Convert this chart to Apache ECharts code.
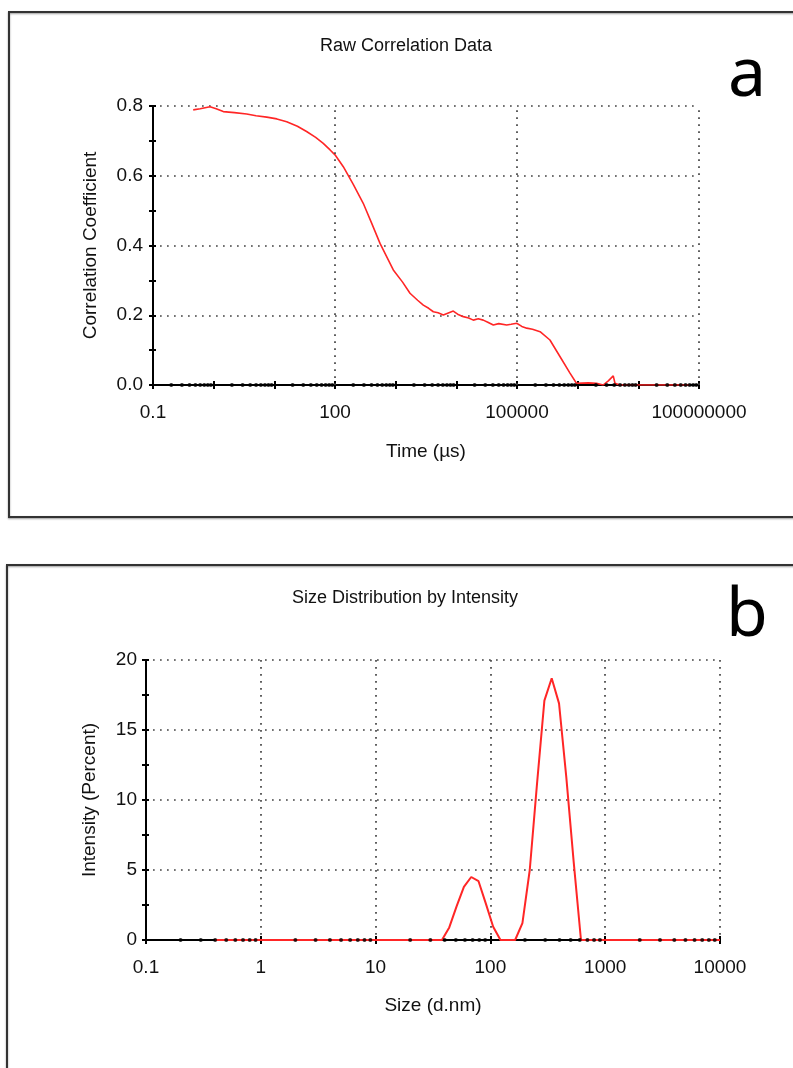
<!DOCTYPE html>
<html>
<head>
<meta charset="utf-8">
<style>
  html, body { margin: 0; padding: 0; background: #fff; }
  #chart { width: 793px; height: 1068px; }
</style>
<script src="https://cdn.jsdelivr.net/npm/echarts@6/dist/echarts.min.js"></script>
</head>
<body>
<div id="chart"></div>
<script>
// --- panel a: raw correlation data (time in µs, correlation coefficient)
var timeUs = [0.46, 0.6, 0.87, 1.1, 1.44, 2.2, 3.5, 5, 7.5, 11, 16, 24, 34, 48, 64, 83, 100, 137, 200, 292,
  400, 552, 914, 1300, 1722, 2300, 2856, 3500, 4178, 5000, 6100, 7200, 8910, 10500, 13030, 16000, 19050,
  23000, 27800, 33000, 40700, 50000, 67600, 80000, 98800, 120000, 144500, 180000, 240000, 349000, 513000,
  747000, 955000, 1500000, 2040000, 2630000, 3200000, 3860000, 4120000, 4980000, 10000000, 70000000];
var corrCoef = [0.789, 0.792, 0.798, 0.792, 0.784, 0.781, 0.777, 0.772, 0.768, 0.763, 0.755, 0.742, 0.727,
  0.71, 0.693, 0.674, 0.66, 0.626, 0.575, 0.521, 0.465, 0.406, 0.33, 0.295, 0.263, 0.243, 0.229, 0.22, 0.21,
  0.207, 0.201, 0.206, 0.212, 0.203, 0.196, 0.192, 0.186, 0.19, 0.186, 0.18, 0.172, 0.176, 0.172, 0.174,
  0.177, 0.168, 0.163, 0.16, 0.153, 0.129, 0.081, 0.034, 0.005, 0.006, 0.005, 0.0, 0.012, 0.026, 0.005, 0, 0, 0];
var timeLabelTicks = [0.1, 100, 100000, 100000000];
var timeGridLines = [100, 100000, 100000000];
var timeDecades = [0.1, 1, 10, 100, 1000, 10000, 100000, 1000000, 10000000];

// --- panel b: size distribution by intensity
var sizeNm = [0.4, 37.84, 43.82, 50.75, 58.77, 68.06, 78.82, 91.28, 105.7, 122.4, 164.2, 190.1, 220.2,
  255.0, 295.3, 342.0, 396.1, 458.7, 531.2, 615.1, 10000];
var intensityPct = [0, 0, 0.9, 2.4, 3.8, 4.5, 4.2, 2.6, 0.95, 0, 0, 1.2, 5.0, 11.2, 17.1, 18.7, 16.9, 11.6, 5.6, 0, 0];
var sizeDecades = [0.1, 1, 10, 100, 1000];

var minorSteps = [2, 3, 4, 5, 6, 7, 8, 9];

function minorDots(decades) {
  var pts = [];
  decades.forEach(function (d) {
    minorSteps.forEach(function (k) { pts.push([d * k, 0]); });
  });
  return pts;
}

function zip(xs, ys) {
  return xs.map(function (x, i) { return [x, ys[i]]; });
}

function expOf(v) { return Math.round(Math.log(v) / Math.LN10); }
function fmtPow(v) {
  var e = expOf(v);
  return e < 0 ? '0.1' : String(Math.pow(10, e));
}

var FONT = 'Liberation Sans';
var TXT = '#111';
var dotted = { color: '#444', width: 1.7, type: [1.7, 5.3] };
var tickStyle = { color: '#000', width: 2 };

// axes that only add the inner half of the tick marks (ticks cross the axis line)
function innerX(grid, max) {
  return {
    gridIndex: grid, position: 'bottom', type: 'log', logBase: 10, min: 0.1, max: max,
    axisLine: { show: false }, axisLabel: { show: false }, splitLine: { show: false },
    axisTick: { show: true, inside: true, length: 4, lineStyle: tickStyle }
  };
}
function innerY(grid, max, step) {
  return {
    gridIndex: grid, position: 'left', type: 'value', min: 0, max: max, interval: step,
    axisLine: { show: false }, axisLabel: { show: false }, splitLine: { show: false },
    axisTick: { show: true, inside: true, length: 3, lineStyle: tickStyle },
    minorTick: { show: true, splitNumber: 2, length: 3, lineStyle: tickStyle }
  };
}

var myChart = echarts.init(document.getElementById('chart'));

var option = {
  animation: false,
  backgroundColor: '#fff',
  textStyle: { fontFamily: FONT },
  graphic: [
    { type: 'rect', shape: { x: 9, y: 12, width: 820, height: 505 },
      style: { fill: 'none', stroke: '#333', lineWidth: 2, shadowBlur: 2, shadowColor: '#999', shadowOffsetY: 1 } },
    { type: 'rect', shape: { x: 7, y: 565, width: 820, height: 530 },
      style: { fill: 'none', stroke: '#333', lineWidth: 2, shadowBlur: 2, shadowColor: '#999', shadowOffsetY: 1 } },
    { type: 'text', x: 406, y: 46,
      style: { text: 'Raw Correlation Data', font: '18px ' + FONT, fill: TXT, textAlign: 'center', textVerticalAlign: 'middle' } },
    { type: 'text', x: 405, y: 598,
      style: { text: 'Size Distribution by Intensity', font: '18px ' + FONT, fill: TXT, textAlign: 'center', textVerticalAlign: 'middle' } },
    { type: 'text', x: 747, y: 77,
      style: { text: 'a', font: '68px "Noto Sans"', fill: '#000', textAlign: 'center', textVerticalAlign: 'middle' } },
    { type: 'text', x: 747, y: 617,
      style: { text: 'b', font: '68px "Noto Sans"', fill: '#000', textAlign: 'center', textVerticalAlign: 'middle' } }
  ],
  grid: [
    { left: 153, top: 106, width: 546, height: 279 },
    { left: 146, top: 660, width: 574, height: 280 }
  ],
  xAxis: [
    {
      gridIndex: 0, position: 'bottom', type: 'log', logBase: 10, min: 0.1, max: 100000000,
      name: 'Time (µs)', nameLocation: 'middle', nameGap: 57,
      nameTextStyle: { fontSize: 19, color: TXT, fontFamily: FONT },
      axisLine: { lineStyle: { color: '#000', width: 2 } },
      axisTick: { show: true, length: 4, lineStyle: tickStyle },
      axisLabel: {
        fontSize: 19, color: TXT, margin: 18, showMinLabel: true, showMaxLabel: true,
        formatter: function (v) {
          var e = expOf(v);
          return timeLabelTicks.some(function (t) { return expOf(t) === e; }) ? fmtPow(v) : '';
        }
      },
      splitLine: { show: false }
    },
    {
      gridIndex: 1, position: 'bottom', type: 'log', logBase: 10, min: 0.1, max: 10000,
      name: 'Size (d.nm)', nameLocation: 'middle', nameGap: 56,
      nameTextStyle: { fontSize: 19, color: TXT, fontFamily: FONT },
      axisLine: { lineStyle: { color: '#000', width: 2 } },
      axisTick: { show: true, length: 4, lineStyle: tickStyle },
      axisLabel: { fontSize: 19, color: TXT, margin: 18, formatter: fmtPow },
      splitLine: { show: true, lineStyle: dotted }
    },
    innerX(0, 100000000),
    innerX(1, 10000)
  ],
  yAxis: [
    {
      gridIndex: 0, position: 'left', type: 'value', min: 0, max: 0.8, interval: 0.2,
      name: 'Correlation Coefficient', nameLocation: 'middle', nameGap: 53, nameRotate: 90,
      nameTextStyle: { fontSize: 19, color: TXT, fontFamily: FONT },
      axisLine: { show: true, lineStyle: { color: '#000', width: 2 } },
      axisTick: { show: true, length: 4, lineStyle: tickStyle },
      minorTick: { show: true, splitNumber: 2, length: 4, lineStyle: tickStyle },
      axisLabel: { fontSize: 19, color: TXT, margin: 10, formatter: function (v) { return v.toFixed(1); } },
      splitLine: { show: true, lineStyle: dotted }
    },
    {
      gridIndex: 1, position: 'left', type: 'value', min: 0, max: 20, interval: 5,
      name: 'Intensity (Percent)', nameLocation: 'middle', nameGap: 47, nameRotate: 90,
      nameTextStyle: { fontSize: 19, color: TXT, fontFamily: FONT },
      axisLine: { show: true, lineStyle: { color: '#000', width: 2 } },
      axisTick: { show: true, length: 4, lineStyle: tickStyle },
      minorTick: { show: true, splitNumber: 2, length: 4, lineStyle: tickStyle },
      axisLabel: { fontSize: 19, color: TXT, margin: 9 },
      splitLine: { show: true, lineStyle: dotted }
    },
    innerY(0, 0.8, 0.2),
    innerY(1, 20, 5)
  ],
  series: [
    {
      type: 'line', xAxisIndex: 0, yAxisIndex: 0, data: zip(timeUs, corrCoef),
      showSymbol: false, lineStyle: { color: '#ff2626', width: 1.6 }, z: 3,
      markLine: {
        silent: true, symbol: 'none', label: { show: false },
        lineStyle: dotted,
        data: timeGridLines.map(function (v) { return { xAxis: v }; })
      }
    },
    {
      type: 'scatter', xAxisIndex: 0, yAxisIndex: 0, data: minorDots(timeDecades),
      symbol: 'circle', symbolSize: 4, itemStyle: { color: '#000' }, silent: true, z: 4
    },
    {
      type: 'line', xAxisIndex: 1, yAxisIndex: 1, data: zip(sizeNm, intensityPct),
      showSymbol: false, lineStyle: { color: '#ff2626', width: 2 }, z: 3
    },
    {
      type: 'scatter', xAxisIndex: 1, yAxisIndex: 1, data: minorDots(sizeDecades),
      symbol: 'circle', symbolSize: 4, itemStyle: { color: '#000' }, silent: true, z: 4
    }
  ]
};

myChart.setOption(option);
</script>
</body>
</html>
